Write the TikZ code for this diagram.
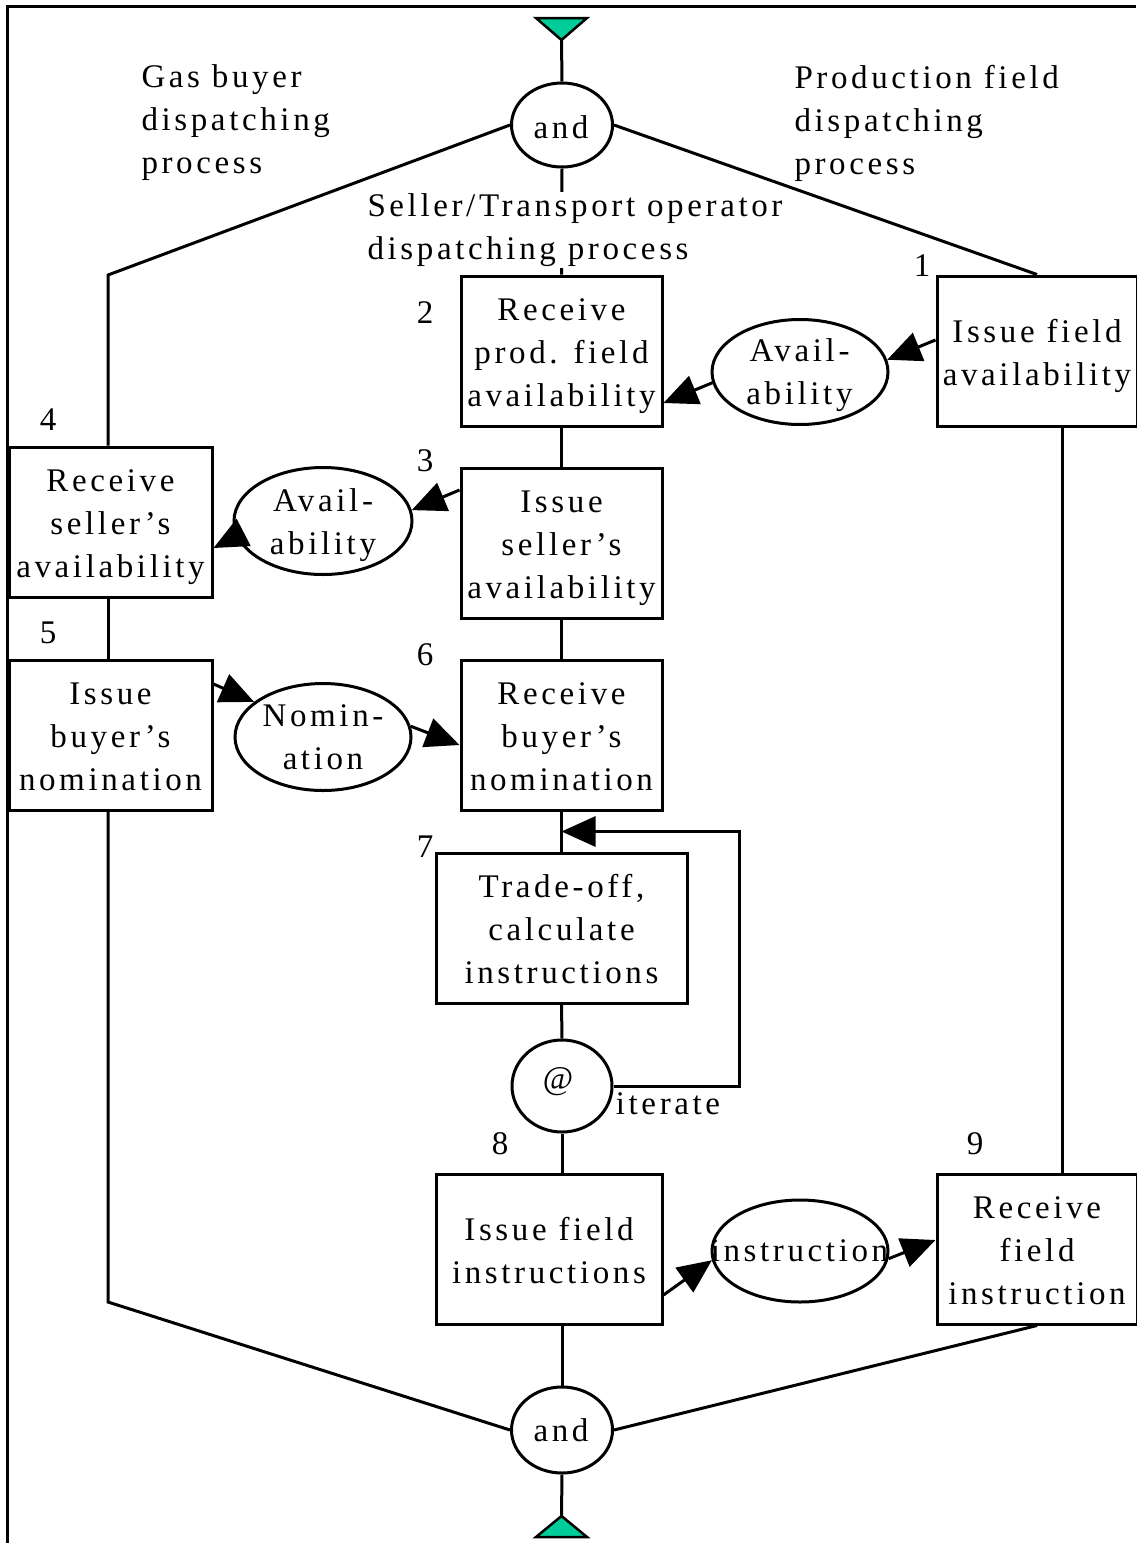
\documentclass[tikz,border=0pt]{standalone}
\usepackage{fontspec}
\setmainfont[LetterSpace=11]{Liberation Serif}
\usetikzlibrary{arrows.meta,shapes.geometric,calc}
\definecolor{gateteal}{RGB}{0,204,153}
% invisible struts that fix the height of the first line and the depth of the last
\newcommand\lnhi{\rule{0pt}{33pt}}
\newcommand\lnlo{\rule[-8pt]{0pt}{8pt}}
\begin{document}
\begin{tikzpicture}[x=1pt,y=-1pt,line width=3pt,
  txt/.style={font=\fontsize{33}{43}\selectfont,align=center,inner sep=0pt},
  box/.style={txt,draw,rectangle,fill=white},
  oval/.style={draw,ellipse,fill=white,inner sep=0pt},
  lbl/.style={txt,align=left,anchor=west},
  num/.style={txt},
  flow/.style={-{Triangle[length=34pt,width=30pt]}}]
\useasboundingbox (0,0) rectangle (1136,1543);

% frame
\draw (7,1543) -- (7,6) -- (1136,6);

% gateway triangles
\filldraw[fill=gateteal,line width=2.5pt] (536,18) -- (587,18) -- (561.5,40) -- cycle;
\coordinate (ttop) at (561.5,40);
\filldraw[fill=gateteal,line width=2.5pt] (536,1537) -- (587,1537) -- (561.5,1516) -- cycle;
\coordinate (tbot) at (561.5,1516);

% activity boxes
\node[box,minimum width=200pt,minimum height=150pt] (b1) at (1037,351) {\lnhi Issue field\\availability\lnlo};
\node[box,minimum width=201pt,minimum height=150pt] (b2) at (561.5,351) {\lnhi Receive\\prod. field\\availability\lnlo};
\node[box,minimum width=201pt,minimum height=150pt] (b3) at (561.5,543) {\lnhi Issue\\seller’s\\availability\lnlo};
\node[box,minimum width=203pt,minimum height=150pt] (b4) at (110.5,522) {\lnhi Receive\\seller’s\\availability\lnlo};
\node[box,minimum width=203pt,minimum height=150pt] (b5) at (110.5,735) {\lnhi Issue\\buyer’s\\nomination\lnlo};
\node[box,minimum width=201pt,minimum height=150pt] (b6) at (561.5,735) {\lnhi Receive\\buyer’s\\nomination\lnlo};
\node[box,minimum width=251pt,minimum height=150pt] (b7) at (561.5,928) {\lnhi Trade-off,\\calculate\\instructions\lnlo};
\node[box,minimum width=226pt,minimum height=150pt] (b8) at (549,1249) {\lnhi Issue field\\instructions\lnlo};
\node[box,minimum width=200pt,minimum height=150pt] (b9) at (1037,1249) {\lnhi Receive\\field\\instruction\lnlo};

% message and gateway ovals, with their texts laid over them
\node[oval,minimum width=101pt,minimum height=84pt] (andt) at (562,125) {};
\node[txt] (andttext) at (561,127) {and};
\node[oval,minimum width=101pt,minimum height=86pt] (andb) at (562,1430) {};
\node[txt] (andbtext) at (561,1430) {and};
\node[oval,minimum width=176pt,minimum height=105pt] (av1) at (800,372) {};
\node[txt] (av1text) at (799.5,370) {\lnhi Avail-\\ability\lnlo};
\node[oval,minimum width=178pt,minimum height=107pt] (av2) at (323,521) {};
\node[txt] (av2text) at (323,520) {\lnhi Avail-\\ability\lnlo};
\node[oval,minimum width=176pt,minimum height=107pt] (nom) at (323,737) {};
\node[txt] (nomtext) at (323,735) {\lnhi Nomin-\\ation\lnlo};
\node[oval,minimum width=100pt,minimum height=92pt] (iter) at (562,1086) {};
\node[txt] (atsign) at (558,1082) {@};
\node[oval,minimum width=176pt,minimum height=102pt] (ins) at (800,1251) {};
\node[txt] (instext) at (799.5,1251) {instruction};

% lane labels
\node[lbl] (lgas) at (140,123) {Gas buyer\\dispatching\\process};
\node[lbl] (lprod) at (793,123) {Production field\\dispatching\\process};
\coordinate (b2top) at (b2.north);
\draw (andt.south) -- (b2top);
\node[lbl,fill=white,inner sep=1pt] (lsell) at (365,230) {Seller/Transport operator\\dispatching process};

% step numbers
\node[num] (n1) at (922,266) {1};
\node[num] (n2) at (425,313) {2};
\node[num] (n3) at (425,461) {3};
\node[num] (n4) at (48,420) {4};
\node[num] (n5) at (48,633) {5};
\node[num] (n6) at (425,655) {6};
\node[num] (n7) at (425,847) {7};
\node[num] (n8) at (500,1144) {8};
\node[num] (n9) at (975,1144) {9};
\node[txt] (itlbl) at (668,1104) {iterate};

% control flow
\coordinate (lcorner) at (108,275);
\coordinate (lbcorner) at (108,1302);
\draw (ttop) -- (andt.north);
\draw (andt.west) -- (lcorner) -- (b4.north -| lcorner);
\draw (andt.east) -- (b1.north);
\draw (b2.south) -- (b3.north);
\draw (b3.south) -- (b6.north);
\draw (b4.south -| lcorner) -- (b5.north -| lcorner);
\draw (b5.south -| lcorner) -- (lbcorner) -- (andb.west);
\draw (b6.south) -- (b7.north);
\draw (b7.south) -- (iter.north);
\draw (iter.south) -- (b8.north -| iter.south);
\draw ([xshift=25pt]b1.south) -- ([xshift=25pt]b9.north);
\draw (b8.south -| andb.north) -- (andb.north);
\draw (b9.south) -- (andb.east);
\draw (andb.south) -- (tbot);

% iteration loop
\coordinate (loopin) at ($(b6.south)!0.5!(b7.north)$);
\draw[flow] (iter.east) -- ++(126,0) |- (loopin);

% message flows
\draw[flow] ([yshift=11pt]b1.west) -- (av1.8);
\draw[flow] (av1.187) -- ([yshift=-52pt]b2.east);
\draw[flow] ([yshift=53pt]b3.west) -- (av2.7);
\draw[flow] (av2.190) -- ([yshift=-26pt]b4.east);
\draw[flow] ([yshift=51pt]b5.east) -- (nom.153);
\draw[flow] (nom.7) -- ([yshift=-10pt]b6.west);
\draw[flow] ([yshift=-46pt]b8.east) -- (ins.186);
\draw[flow] (ins.-5) -- ([yshift=9pt]b9.west);
\end{tikzpicture}
\end{document}
